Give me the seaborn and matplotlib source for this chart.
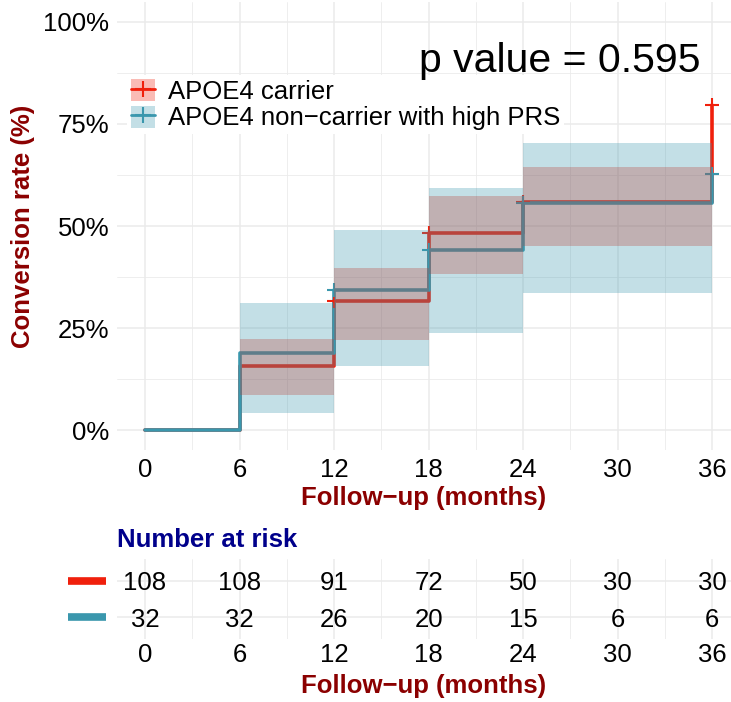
import numpy as np
import pandas as pd
import matplotlib
matplotlib.use("Agg")
import matplotlib.pyplot as plt
import matplotlib.transforms as mtransforms
from matplotlib.patches import Patch
from matplotlib.lines import Line2D
import seaborn as sns

# ---------------- data ----------------
groups = ["APOE4 carrier", "APOE4 non\u2212carrier with high PRS"]
times = [0, 6, 12, 18, 24, 36]
carrier_rate = [0, 15.7, 31.5, 48.4, 55.8, 79.7]
carrier_lower = [0, 8.6, 22.1, 38.3, 45.2, 45.2]
carrier_upper = [0, 22.4, 39.8, 57.3, 64.4, 64.4]
noncarrier_rate = [0, 18.9, 34.4, 44.2, 55.6, 62.7]
noncarrier_lower = [0, 4.2, 15.7, 23.8, 33.7, 33.7]
noncarrier_upper = [0, 31.2, 48.9, 59.2, 70.3, 70.3]
censor_times = [12, 18, 24, 36]
carrier_censor = [31.5, 48.4, 55.8, 79.7]
noncarrier_censor = [34.4, 44.2, 55.6, 62.7]
risk_times = [0, 6, 12, 18, 24, 30, 36]
carrier_risk = [108, 108, 91, 72, 50, 30, 30]
noncarrier_risk = [32, 32, 26, 20, 15, 6, 6]
p_text = "p value = 0.595"

RED = "#F0200C"
BLUE = "#3A97AD"
DARKRED = "#8B0000"
NAVY = "#00008B"
GRID = "#EBEBEB"
palette = {groups[0]: RED, groups[1]: BLUE}

sns.set_theme(style="white")
plt.rcParams["font.family"] = ["Liberation Sans", "DejaVu Sans"]
plt.rcParams["text.color"] = "black"
plt.rcParams["xtick.labelcolor"] = "black"
plt.rcParams["ytick.labelcolor"] = "black"
FS = 18.5

W, H = 731, 702
fig = plt.figure(figsize=(W / 100, H / 100), dpi=100)

def px_axes(left, top, right, bottom):
    return fig.add_axes([left / W, 1 - bottom / H, (right - left) / W, (bottom - top) / H])

ax = px_axes(117, 2, 731, 450)
tab = px_axes(117, 559, 731, 639)

df = pd.DataFrame({
    "time": times * 2,
    "rate": carrier_rate + noncarrier_rate,
    "group": [groups[0]] * len(times) + [groups[1]] * len(times),
})
cens = pd.DataFrame({
    "time": censor_times * 2,
    "rate": carrier_censor + noncarrier_censor,
    "group": [groups[0]] * len(censor_times) + [groups[1]] * len(censor_times),
})

# lines
sns.lineplot(data=df, x="time", y="rate", hue="group", hue_order=groups, palette=palette,
             drawstyle="steps-post", linewidth=2.6, legend=False, ax=ax, zorder=2,
             estimator=None, sort=False)
sns.scatterplot(data=cens, x="time", y="rate", hue="group", hue_order=groups, palette=palette,
                marker="+", s=100, linewidth=1.5, legend=False, ax=ax, zorder=2.5)
# ribbons on top
ax.fill_between(times, carrier_lower, carrier_upper, step="post", color=RED, alpha=0.3,
                linewidth=0, zorder=3)
ax.fill_between(times, noncarrier_lower, noncarrier_upper, step="post", color=BLUE, alpha=0.3,
                linewidth=0, zorder=3.1)

ax.set_xlim(-1.78, 37.2)
ax.set_ylim(-4.9, 104.9)
ax.set_xticks([0, 6, 12, 18, 24, 30, 36])
ax.set_xticks([3, 9, 15, 21, 27, 33], minor=True)
ax.set_yticks([0, 25, 50, 75, 100])
ax.set_yticklabels(["0%", "25%", "50%", "75%", "100%"])
ax.set_yticks([12.5, 37.5, 62.5, 87.5], minor=True)
ax.grid(True, which="major", color=GRID, linewidth=1.1, zorder=0)
ax.grid(True, which="minor", color=GRID, linewidth=0.6, zorder=0)
ax.set_axisbelow(True)
for s in ax.spines.values():
    s.set_visible(False)
ax.tick_params(axis="both", which="major", labelsize=FS, length=3, width=0.8,
               color="#333333", pad=2.5, labelcolor="black")
ax.tick_params(axis="both", which="minor", length=0)
ax.set_xlabel("Follow\u2212up (months)", fontsize=FS, fontweight="bold", color=DARKRED, labelpad=3)
ax.set_ylabel("Conversion rate (%)", fontsize=FS, fontweight="bold", color=DARKRED, labelpad=6)

ax.text(0.721, 0.868, p_text, transform=ax.transAxes, fontsize=29.5, ha="center", va="center",
        zorder=10, color="black")

handles = [
    (Patch(facecolor=RED, alpha=0.3, edgecolor="none"),
     Line2D([], [], color=RED, linewidth=2, marker="+", markersize=11, markeredgewidth=1.5)),
    (Patch(facecolor=BLUE, alpha=0.3, edgecolor="none"),
     Line2D([], [], color=BLUE, linewidth=2, marker="+", markersize=11, markeredgewidth=1.5)),
]
leg = ax.legend(handles, groups, loc="upper left", bbox_to_anchor=(0.016, 0.836),
                fontsize=FS, frameon=True, framealpha=1, edgecolor="none", facecolor="white",
                borderpad=0.15, handlelength=0.95, handleheight=0.95, handletextpad=0.5,
                labelspacing=0.05, borderaxespad=0, labelcolor="black")
leg.set_zorder(5)

# ---------------- risk table ----------------
rows = [1, 0]
for row, vals in zip(rows, [carrier_risk, noncarrier_risk]):
    for t, v in zip(risk_times, vals):
        tab.text(t, row, str(v), ha="center", va="center_baseline", fontsize=FS, color="black")
tab.set_xlim(ax.get_xlim())
tab.set_ylim(-0.61, 1.61)
tab.set_xticks(risk_times)
tab.set_xticks([3, 9, 15, 21, 27, 33], minor=True)
tab.set_yticks(rows)
tab.set_yticklabels([])
tab.grid(True, which="major", color=GRID, linewidth=1.1)
tab.grid(True, which="minor", axis="x", color=GRID, linewidth=0.6)
for s in tab.spines.values():
    s.set_visible(False)
tab.tick_params(axis="both", which="both", length=0, labelsize=FS, pad=3, labelcolor="black")
tab.set_xlabel("Follow\u2212up (months)", fontsize=FS, fontweight="bold", color=DARKRED, labelpad=5)
blend = mtransforms.blended_transform_factory(tab.transAxes, tab.transData)
for row, col in zip(rows, [RED, BLUE]):
    tab.plot([-0.08, -0.018], [row, row], transform=blend, color=col, linewidth=5.5,
             solid_capstyle="butt", clip_on=False)
tab.text(0.0, 1.24, "Number at risk", transform=tab.transAxes, fontsize=18.5, fontweight="bold",
         color=NAVY, ha="left", va="center")

fig.savefig("out.png", dpi=100)
